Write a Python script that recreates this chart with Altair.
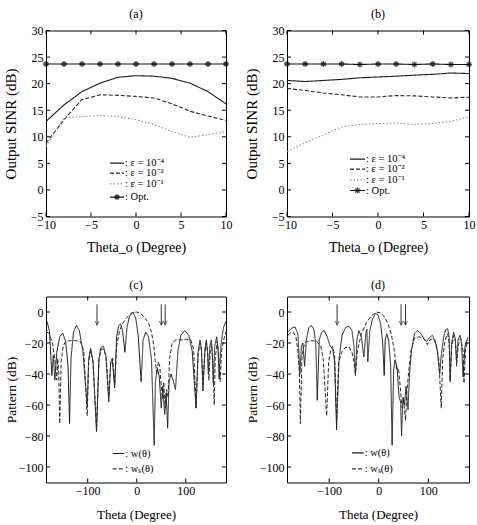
import altair as alt
import pandas as pd

FONT = "Liberation Serif"

# ---------------- (a), (b): output SINR versus theta_o ----------------
theta_o = [-10, -8, -6, -4, -2, 0, 2, 4, 6, 8, 10]
a_eps4 = [12.9, 16.0, 18.5, 20.1, 21.2, 21.5, 21.4, 21.0, 20.1, 18.5, 16.2]
a_eps2 = [8.8, 13.2, 17.0, 17.9, 17.8, 17.6, 17.3, 16.2, 14.8, 13.9, 13.1]
a_eps1 = [8.2, 13.6, 13.8, 14.0, 13.8, 13.2, 12.3, 11.0, 9.9, 10.4, 11.0]
a_opt = [23.7, 23.7, 23.7, 23.7, 23.7, 23.7, 23.7, 23.7, 23.7, 23.7, 23.7]

b_eps4 = [20.6, 20.4, 20.6, 20.8, 21.1, 21.25, 21.4, 21.6, 21.75, 22.0, 21.9]
b_eps2 = [19.1, 18.7, 18.25, 17.9, 17.5, 17.5, 17.75, 17.7, 17.5, 17.3, 17.45]
b_eps1 = [7.2, 8.9, 10.3, 11.9, 12.3, 12.5, 12.6, 12.3, 12.5, 12.9, 13.75]
b_opt = [23.7, 23.7, 23.7, 23.7, 23.6, 23.7, 23.7, 23.6, 23.7, 23.6, 23.6]

sinr_series = ["e4", "e2", "e1", "opt"]
sinr_labels = [": ε = 10⁻⁴", ": ε = 10⁻²", ": ε = 10⁻¹", ": Opt."]
sinr_ticks_x = [-10, -5, 0, 5, 10]
sinr_ticks_y = [-5, 0, 5, 10, 15, 20, 25, 30]

# ---------------- (c), (d): beam patterns (theta, dB) ----------------
c_w = [(-183, -6), (-178, -12), (-173, -41), (-170, -28), (-167, -44), (-163, -26),
       (-157, -16), (-151, -13.5), (-145, -19), (-140, -35), (-137, -72), (-134, -30),
       (-129, -13), (-123, -8.6), (-117, -12), (-110, -25), (-101, -61), (-98, -30),
       (-94, -23.5), (-89, -32), (-82, -77), (-77, -30), (-73, -23), (-68, -22),
       (-63, -28), (-57, -58), (-53, -32), (-50, -30), (-45, -49), (-41, -16),
       (-37, -9), (-33, -7.5), (-29, -12), (-24, -26), (-20, -10), (-15, -3),
       (-8, 0), (-2, -4), (3, -15), (9, -45), (13, -18), (18.5, -13), (24, -16),
       (30, -30), (35.6, -86), (38, -45), (42, -36), (46, -42), (50, -62), (53, -48),
       (57, -66), (60, -52), (63, -75), (66, -45), (70, -40), (75, -45), (79, -50),
       (84, -25), (90, -15), (98, -12), (106, -15), (113, -25), (121, -62), (125, -26),
       (129, -18), (132, -24), (135, -51), (139, -24), (142, -18), (144, -25),
       (146, -40), (149, -22), (152, -18), (154, -26), (156, -46), (159, -22),
       (163, -16), (166, -25), (168, -43), (172, -20), (177, -10), (182, -6)]
c_ws = [(-183, -13), (-178, -14), (-172, -20), (-168, -28), (-165, -36), (-163, -44),
        (-161, -30), (-159, -40), (-157, -72), (-154, -32), (-150, -22), (-145, -19),
        (-135, -18.5), (-125, -18.5), (-115, -19), (-108, -25), (-101, -67), (-98, -32),
        (-94, -25), (-89, -33), (-82, -76), (-77, -30), (-72, -24), (-67, -24),
        (-62, -30), (-57, -55), (-53, -33), (-49, -30), (-45, -47), (-41, -22),
        (-35, -12), (-28, -7), (-20, -3.5), (-10, -0.5), (0, 0), (8, -1), (16, -3.5),
        (24, -7), (30, -13), (35, -22), (38, -32), (41, -40), (44, -32), (47, -35),
        (50, -48), (53, -56), (55, -45), (58, -62), (61, -50), (64, -55), (67, -30),
        (72, -20), (80, -18), (90, -18), (100, -17.5), (110, -18), (116, -24),
        (121, -62), (125, -28), (129, -20), (132, -25), (135, -47), (139, -26),
        (142, -20), (145, -27), (147, -44), (150, -25), (153, -21), (156, -40),
        (158, -60), (160, -30), (164, -19), (167, -26), (170, -45), (173, -25),
        (178, -17), (182, -13)]
d_w = [(-183, -13), (-176, -10.5), (-169, -9.6), (-163, -14), (-159, -40), (-156, -22),
       (-153, -20), (-149.5, -35), (-146, -18), (-141, -10), (-136, -8.6), (-131, -11),
       (-127, -20), (-124, -57), (-120, -18), (-115, -13), (-110, -12), (-104, -16),
       (-98, -22), (-93, -23.5), (-89, -32), (-85, -76), (-80, -30), (-74, -15),
       (-67, -10), (-60, -9.2), (-54, -12), (-50, -22), (-47, -41), (-44, -18),
       (-40, -12), (-35, -16), (-30, -29), (-26, -14), (-24, -11), (-22, -32),
       (-18, -12), (-13, -5), (-7, -1), (-2, -1.5), (4, -8), (8, -20), (11, -41),
       (13, -18), (16, -14), (20, -18), (24, -35), (27, -86), (30, -37), (33, -31),
       (37, -36), (41, -55), (44, -58), (46, -80), (49, -55), (52, -60), (55, -48),
       (59, -63), (62, -40), (66, -25), (72, -14), (78, -12), (85, -14), (91, -17),
       (96, -19), (101, -17), (108, -15), (113, -18), (118, -25), (123, -40),
       (126, -28), (131, -16), (135, -11.5), (139, -10.7), (142, -16), (144, -45),
       (147, -20), (151, -13), (154, -17), (157, -32), (160, -18), (164, -15),
       (167, -20), (170, -42), (174, -22), (180, -16)]
d_ws = [(-183, -15), (-178, -13.5), (-172, -13), (-167, -16), (-163, -25), (-160, -40),
        (-158, -72), (-155, -30), (-151, -22), (-146, -19), (-135, -18.5), (-125, -19),
        (-117, -22), (-112, -30), (-105, -67), (-101, -32), (-97, -25), (-93, -22),
        (-89, -28), (-85, -70), (-81, -33), (-75, -26), (-68, -23), (-60, -22.5),
        (-54, -26), (-50, -32), (-47, -40), (-43, -25), (-35, -14), (-25, -7),
        (-15, -2.5), (-5, 0), (3, -0.5), (10, -2.5), (18, -7), (25, -14), (31, -24),
        (36, -37), (40, -37), (43, -47), (47, -62), (50, -56), (54, -70), (57, -50),
        (60, -40), (65, -25), (72, -17), (80, -16), (88, -16.5), (93, -18), (98, -21),
        (103, -18), (110, -17), (116, -21), (121, -30), (126, -62), (129, -30),
        (134, -18), (139, -14), (142, -20), (144, -44), (147, -23), (151, -15),
        (155, -19), (157, -35), (160, -22), (165, -17), (170, -25), (172, -46),
        (175, -24), (180, -18)]

c_arrows = [-81, 50, 58]
d_arrows = [-84, 45, 54]
arrow_top, arrow_tip = 5, -8.5

pat_series = ["w", "ws"]
pat_labels = [": w(θ)", ": wₛ(θ)"]
pat_ticks_x = [-100, 0, 100]
pat_ticks_y = [0, -20, -40, -60, -80, -100]

# ---------------- styles ----------------
ASTERISK = "M-1,0L1,0M0,-1L0,1M-0.7,-0.7L0.7,0.7M-0.7,0.7L0.7,-0.7"
ARROWHEAD = "M-0.7,-1.5L0,0L0.7,-1.5"
DASH = {"e4": [1, 0], "e2": [4, 2], "e1": [1.5, 2], "opt": [1, 0], "w": [1, 0], "ws": [4, 2]}
COLOR = {"e4": "#1c1c1c", "e2": "#2a2a2a", "e1": "#8f8f8f", "opt": "#111111",
         "w": "#1c1c1c", "ws": "#3a3a3a"}
H = 186


def make_axes(xdom, ydom, xvals, yvals, xtitle, ytitle, W, xtitle_y, ytitle_x, xfs, yfs):
    common = dict(ticks=False, domain=False, grid=False, labelFont=FONT, labelFontSize=12,
                  labelColor="black", labelPadding=3, labelFlush=False, labelOverlap=False,
                  titleFont=FONT, titleFontWeight="normal",
                  titleColor="black", titleBaseline="middle", titleAlign="center")
    X = alt.X("x:Q", scale=alt.Scale(domain=xdom, nice=False, zero=False),
              axis=alt.Axis(title=xtitle, values=xvals, titleX=W / 2, titleY=xtitle_y,
                            titleFontSize=xfs, **common))
    Y = alt.Y("y:Q", scale=alt.Scale(domain=ydom, nice=False, zero=False),
              axis=alt.Axis(title=ytitle, values=yvals, titleX=ytitle_x, titleY=H / 2,
                            titleFontSize=yfs, **common))
    return X, Y


def frame_ticks(X, Y, xvals, yvals, W, L=4):
    dx = pd.DataFrame({"x": xvals})
    dy = pd.DataFrame({"y": yvals})
    r = dict(color="black", strokeWidth=1)
    return [
        alt.Chart(dx).mark_rule(**r).encode(x=X, y=alt.value(H), y2=alt.value(H - L)),
        alt.Chart(dx).mark_rule(**r).encode(x=X, y=alt.value(0), y2=alt.value(L)),
        alt.Chart(dy).mark_rule(**r).encode(y=Y, x=alt.value(0), x2=alt.value(L)),
        alt.Chart(dy).mark_rule(**r).encode(y=Y, x=alt.value(W), x2=alt.value(W - L)),
    ]


def legend_layers(series, labels, x0, x1, tx, rows, star=None):
    out = []
    for s, lab, ry in zip(series, labels, rows):
        one = pd.DataFrame({"label": [lab]})
        out.append(alt.Chart(one).mark_rule(strokeWidth=1.2).encode(
            x=alt.value(x0), x2=alt.value(x1), y=alt.value(ry),
            strokeDash=alt.value(DASH[s]), color=alt.value(COLOR[s])))
        out.append(alt.Chart(one).mark_text(align="left", baseline="middle", font=FONT,
                                            fontSize=10.5, color="black").encode(
            x=alt.value(tx), y=alt.value(ry), text="label:N"))
        if star is not None and s == star:
            out.append(alt.Chart(one).mark_point(shape=ASTERISK, size=36, filled=False,
                                                 strokeWidth=1.3, color="black").encode(
                x=alt.value((x0 + x1) / 2), y=alt.value(ry)))
    return out


def sinr_panel(letter, eps4, eps2, eps1, opt, W, leg):
    X, Y = make_axes([-10, 10], [-5, 30], sinr_ticks_x, sinr_ticks_y,
                     "Theta_o (Degree)", "Output SINR (dB)", W, 31, -35.5, 14, 15)
    n = len(theta_o)
    df = pd.DataFrame({"x": theta_o * 4, "y": eps4 + eps2 + eps1 + opt,
                       "s": ["e4"] * n + ["e2"] * n + ["e1"] * n + ["opt"] * n})
    lines = alt.Chart(df).mark_line(strokeWidth=1.1).encode(
        x=X, y=Y,
        strokeDash=alt.StrokeDash("s:N", scale=alt.Scale(domain=sinr_series,
                                  range=[DASH[s] for s in sinr_series]), legend=None),
        color=alt.Color("s:N", scale=alt.Scale(domain=sinr_series,
                        range=[COLOR[s] for s in sinr_series]), legend=None))
    stars = alt.Chart(pd.DataFrame({"x": theta_o, "y": opt})).mark_point(
        shape=ASTERISK, size=36, filled=False, strokeWidth=1.3, color="black").encode(x=X, y=Y)
    layers = [lines, stars] + frame_ticks(X, Y, sinr_ticks_x, sinr_ticks_y, W) + \
        legend_layers(sinr_series, sinr_labels, leg[0], leg[1], leg[2], leg[3], star="opt")
    return alt.layer(*layers).properties(
        width=W, height=H,
        title=alt.TitleParams(letter, font=FONT, fontSize=12, fontWeight="normal",
                              color="black", offset=4, anchor="middle"))


def pattern_panel(letter, w, ws, arrows, W, leg):
    X, Y = make_axes([-185, 182], [-110, 10], pat_ticks_x, pat_ticks_y,
                     "Theta (Degree)", "Pattern (dB)", W, 32, -35, 13, 13.5)
    df = pd.DataFrame({"x": [p[0] for p in w] + [p[0] for p in ws],
                       "y": [p[1] for p in w] + [p[1] for p in ws],
                       "s": ["w"] * len(w) + ["ws"] * len(ws)})
    lines = alt.Chart(df).mark_line(strokeWidth=1).encode(
        x=X, y=Y,
        strokeDash=alt.StrokeDash("s:N", scale=alt.Scale(domain=pat_series,
                                  range=[DASH[s] for s in pat_series]), legend=None),
        color=alt.Color("s:N", scale=alt.Scale(domain=pat_series,
                        range=[COLOR[s] for s in pat_series]), legend=None))
    adf = pd.DataFrame({"x": arrows, "y": [arrow_top] * len(arrows),
                        "y2": [arrow_tip] * len(arrows)})
    hdf = pd.DataFrame({"x": arrows, "y": [arrow_tip] * len(arrows)})
    shafts = alt.Chart(adf).mark_rule(color="#333", strokeWidth=1).encode(x=X, y=Y, y2="y2:Q")
    heads = alt.Chart(hdf).mark_point(shape=ARROWHEAD, size=30, filled=False,
                                      strokeWidth=1, color="#333").encode(x=X, y=Y)
    layers = [lines, shafts, heads] + frame_ticks(X, Y, pat_ticks_x, pat_ticks_y, W) + \
        legend_layers(pat_series, pat_labels, leg[0], leg[1], leg[2], leg[3])
    return alt.layer(*layers).properties(
        width=W, height=H,
        title=alt.TitleParams(letter, font=FONT, fontSize=12, fontWeight="normal",
                              color="black", offset=4, anchor="middle"))


pa = sinr_panel("(a)", a_eps4, a_eps2, a_eps1, a_opt, 180, (64, 78, 79, [132.6, 142.6, 153.3, 166.6]))
pb = sinr_panel("(b)", b_eps4, b_eps2, b_eps1, b_opt, 182, (63, 78, 79, [128.6, 138.6, 149.3, 160]))
pc = pattern_panel("(c)", c_w, c_ws, c_arrows, 180, (66.7, 78.3, 79.3, [157, 172.3]))
pdd = pattern_panel("(d)", d_w, d_ws, d_arrows, 182, (65, 76.7, 77.7, [156.3, 172.3]))

chart = alt.concat(pa, pb, pc, pdd, columns=2, spacing={"row": 80, "column": 61},
                   bounds="flush").configure_view(
    stroke="black", strokeWidth=1).properties(
    padding={"left": 3, "top": 6.5, "right": 0, "bottom": 0}, background="white")

chart.save("out.html", embed_options={"renderer": "svg", "actions": False})
